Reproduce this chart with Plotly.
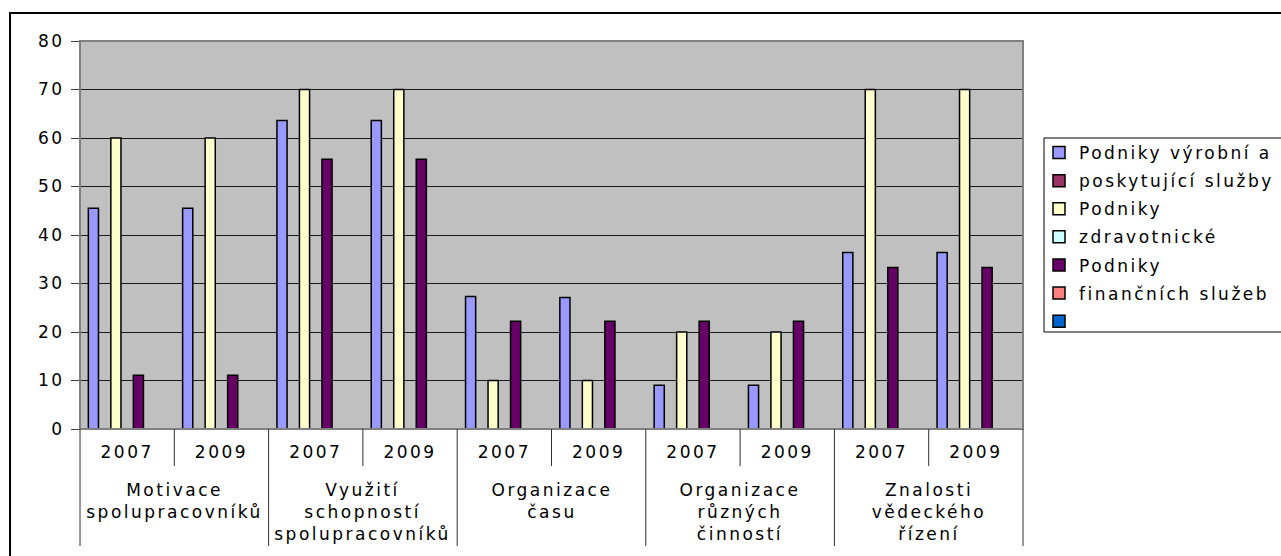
import plotly.graph_objects as go

# Category groups (outer level) and survey years (inner level)
groups = [
    "Motivace<br>spolupracovníků",
    "Využití<br>schopností<br>spolupracovníků",
    "Organizace<br>času",
    "Organizace<br>různých<br>činností",
    "Znalosti<br>vědeckého<br>řízení",
]
years = ["2007", "2009"]

# Legend entries, in series order
series_names = [
    "Podniky výrobní a",
    "poskytující služby",
    "Podniky",
    "zdravotnické",
    "Podniky",
    "finančních služeb",
    "",
]

# Series values, one per (group, year) cell; None = no value
vyrobni_a = [45.5, 45.5, 63.6, 63.6, 27.3, 27.1, 9.0, 9.0, 36.4, 36.4]
poskytujici_sluzby = [None] * 10
podniky_zdravotnicke = [60, 60, 70, 70, 10, 10, 20, 20, 70, 70]
zdravotnicke = [None] * 10
podniky_financni = [11.1, 11.1, 55.6, 55.6, 22.2, 22.2, 22.2, 22.2, 33.3, 33.3]
financnich_sluzeb = [None] * 10
prazdna = [None] * 10

series_values = [
    vyrobni_a,
    poskytujici_sluzby,
    podniky_zdravotnicke,
    zdravotnicke,
    podniky_financni,
    financnich_sluzeb,
    prazdna,
]
series_colors = ["#9999FF", "#993366", "#FFFFCC", "#CCFFFF", "#660066", "#FF8080", "#0066CC"]

FONT = "DejaVu Sans, Verdana, sans-serif"
FSIZE = 17

# Unique category keys for every (group, year) cell
keys = []
tick_text = []
for g in groups:
    for y in years:
        keys.append(g.replace("<br>", " ") + " " + y)
        tick_text.append(y)

fig = go.Figure()
for i, (name, vals, col) in enumerate(zip(series_names, series_values, series_colors)):
    fig.add_trace(
        go.Bar(
            x=keys,
            y=vals,
            name=name,
            legendgroup=f"s{i}",
            showlegend=True,
            marker=dict(color=col, line=dict(color="black", width=1.5)),
        )
    )

shapes = []
# Outer chart border
shapes.append(dict(type="rect", xref="paper", yref="paper",
                   x0=-0.0742, x1=1.3, y0=-0.36, y1=1.0722,
                   line=dict(color="black", width=2), fillcolor="rgba(0,0,0,0)", layer="below"))
# Plot-area frame
shapes.append(dict(type="rect", xref="paper", yref="paper", x0=0, x1=1, y0=0, y1=1,
                   line=dict(color="#808080", width=2), fillcolor="rgba(0,0,0,0)", layer="above"))
# Legend frame
shapes.append(dict(type="rect", xref="paper", yref="paper",
                   x0=1.0223, x1=1.3, y0=(429 - 332) / 388, y1=0.75,
                   line=dict(color="black", width=1), fillcolor="rgba(0,0,0,0)", layer="above"))

n_cells = len(keys)
# Short separators between years inside each group
for gi in range(len(groups)):
    xb = gi * len(years) + 0.5
    shapes.append(dict(type="line", xref="x", yref="paper", x0=xb, x1=xb,
                       y0=0, y1=-37 / 388, line=dict(color="#303030", width=1)))
# Long separators between groups
for gi in range(1, len(groups)):
    xb = gi * len(years) - 0.5
    shapes.append(dict(type="line", xref="x", yref="paper", x0=xb, x1=xb,
                       y0=0, y1=-117 / 388, line=dict(color="#303030", width=1)))
for xd in (0, 1):
    shapes.append(dict(type="line", xref="x domain", yref="paper", x0=xd, x1=xd,
                       y0=0, y1=-117 / 388, line=dict(color="#303030", width=1)))

annotations = []
for gi, g in enumerate(groups):
    annotations.append(dict(
        x=gi * len(years) + 0.5, xref="x", y=0, yref="paper",
        yanchor="top", xanchor="center", yshift=-49,
        text=g, showarrow=False, align="center",
        font=dict(family=FONT, size=FSIZE, color="black"),
    ))

fig.update_layout(
    width=1281, height=556,
    margin=dict(l=80, r=258, t=41, b=127),
    paper_bgcolor="white",
    plot_bgcolor="#C0C0C0",
    barmode="group",
    bargap=0.165,
    bargroupgap=0.1,
    font=dict(family=FONT, size=FSIZE, color="black"),
    showlegend=True,
    legend=dict(
        x=(1039 - 80) / 943, xanchor="left", y=(429 - 135) / 388, yanchor="top",
        bgcolor="rgba(0,0,0,0)", borderwidth=0,
        tracegroupgap=3, traceorder="grouped",
        font=dict(family=FONT, size=FSIZE, color="black"),
    ),
    xaxis=dict(
        type="category", range=[-0.5, n_cells - 0.5],
        tickmode="array", tickvals=keys, ticktext=tick_text,
        ticks="outside", ticklen=8, tickcolor="rgba(0,0,0,0)",
        showline=True, linecolor="black", linewidth=1,
        showgrid=False, zeroline=False,
        tickfont=dict(family=FONT, size=FSIZE, color="black"),
    ),
    yaxis=dict(
        range=[0, 80], dtick=10, tick0=0,
        showgrid=True, gridcolor="#1a1a1a", gridwidth=1,
        showline=True, linecolor="black", linewidth=1,
        ticks="outside", ticklen=8, tickcolor="#404040",
        ticklabelstandoff=3,
        zeroline=False,
        tickfont=dict(family=FONT, size=FSIZE, color="black"),
    ),
    shapes=shapes,
    annotations=annotations,
)

# Slightly spaced lettering for all chart text; let legend labels run past the clip box
letter_spacing_css = (
    "var st = document.createElement('style');"
    "st.textContent = '.js-plotly-plot .main-svg text { letter-spacing: 2.5px; }"
    " .js-plotly-plot .legend .scrollbox { clip-path: none !important; }';"
    "document.head.appendChild(st);"
)

fig.write_html("out.html", post_script=letter_spacing_css)
